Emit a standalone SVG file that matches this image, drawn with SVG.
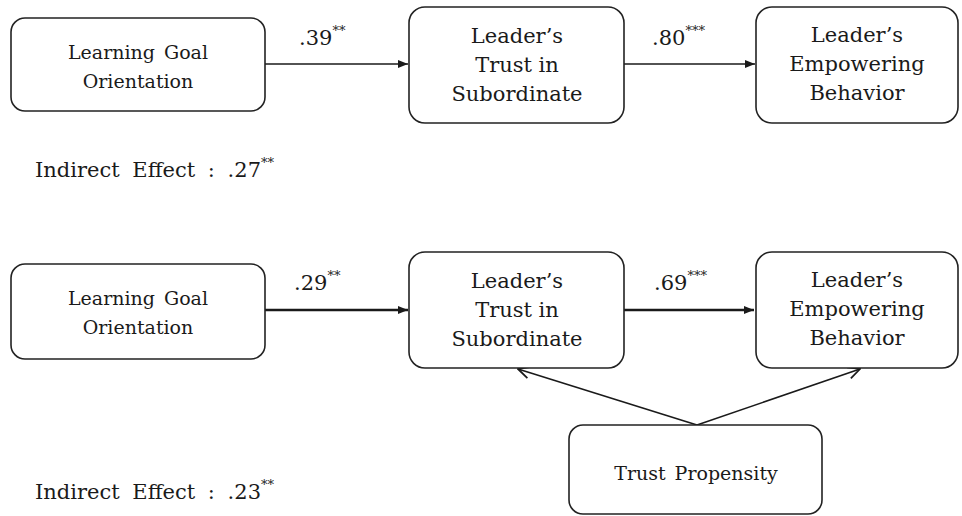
<svg xmlns="http://www.w3.org/2000/svg" width="962" height="516" viewBox="0 0 962 516">
<style>
.box{fill:#fff;stroke:#222;stroke-width:1.6}
.n{font-size:21px;text-anchor:middle}
.s{font-size:19px;text-anchor:middle;word-spacing:3px}
.lab{font-size:21px}
.ind{font-size:21px;word-spacing:6px}
.sup{font-size:13px}
.c{stroke:#1a1a1a;fill:none}
</style>
<defs>
<marker id="tri" viewBox="0 0 10 10" refX="10" refY="5" markerWidth="10" markerHeight="10" markerUnits="userSpaceOnUse" orient="auto">
<path d="M0,1 L10,5 L0,9 Z" fill="#1a1a1a"/>
</marker>
<marker id="open" viewBox="0 0 12 12" refX="11" refY="6" markerWidth="14" markerHeight="14" markerUnits="userSpaceOnUse" orient="auto">
<path d="M1,1 L11,6 L1,11" fill="none" stroke="#1a1a1a" stroke-width="1.5"/>
</marker>
</defs>

<g id="connectors">
<line class="c" x1="265" y1="64" x2="408" y2="64" stroke-width="1.6" marker-end="url(#tri)"/>
<line class="c" x1="624" y1="64" x2="755" y2="64" stroke-width="1.6" marker-end="url(#tri)"/>
<line class="c" x1="265" y1="310" x2="408" y2="310" stroke-width="2.4" marker-end="url(#tri)"/>
<line class="c" x1="624" y1="310" x2="754" y2="310" stroke-width="2.4" marker-end="url(#tri)"/>
<line class="c" x1="697" y1="425" x2="518" y2="369" stroke-width="1.6" marker-end="url(#open)"/>
<line class="c" x1="697" y1="425" x2="860" y2="369" stroke-width="1.6" marker-end="url(#open)"/>
</g>

<g font-family="DejaVu Serif, serif" fill="#1a1a1a">
<g id="labels">
<text class="lab" x="299" y="45">.39<tspan class="sup" dy="-10">**</tspan></text>
<text class="lab" x="652" y="45">.80<tspan class="sup" dy="-10">***</tspan></text>
<text class="lab" x="294" y="290">.29<tspan class="sup" dy="-10">**</tspan></text>
<text class="lab" x="654" y="290">.69<tspan class="sup" dy="-10">***</tspan></text>
<text class="ind" x="35" y="177">Indirect Effect : .27<tspan class="sup" dy="-10" word-spacing="0">**</tspan></text>
<text class="ind" x="35" y="499">Indirect Effect : .23<tspan class="sup" dy="-10" word-spacing="0">**</tspan></text>
</g>

<g id="lgo1">
<rect class="box" x="11" y="18" width="254" height="93" rx="14"/>
<text class="s" x="138" y="59">Learning Goal</text>
<text class="s" x="138" y="88">Orientation</text>
</g>
<g id="lts1">
<rect class="box" x="409" y="7" width="215" height="116" rx="16"/>
<text class="n" x="517" y="43">Leader’s</text>
<text class="n" x="517" y="72">Trust in</text>
<text class="n" x="517" y="101">Subordinate</text>
</g>
<g id="leb1">
<rect class="box" x="756" y="7" width="202" height="116" rx="16"/>
<text class="n" x="857" y="42">Leader’s</text>
<text class="n" x="857" y="71">Empowering</text>
<text class="n" x="857" y="100">Behavior</text>
</g>

<g id="lgo2">
<rect class="box" x="11" y="264" width="254" height="95" rx="14"/>
<text class="s" x="138" y="305">Learning Goal</text>
<text class="s" x="138" y="334">Orientation</text>
</g>
<g id="lts2">
<rect class="box" x="409" y="252" width="215" height="116" rx="16"/>
<text class="n" x="517" y="288">Leader’s</text>
<text class="n" x="517" y="317">Trust in</text>
<text class="n" x="517" y="346">Subordinate</text>
</g>
<g id="leb2">
<rect class="box" x="756" y="252" width="202" height="116" rx="16"/>
<text class="n" x="857" y="287">Leader’s</text>
<text class="n" x="857" y="316">Empowering</text>
<text class="n" x="857" y="345">Behavior</text>
</g>
<g id="tp">
<rect class="box" x="569" y="425" width="253" height="89" rx="14"/>
<text class="s" x="696" y="480">Trust Propensity</text>
</g>
</g>
</svg>
